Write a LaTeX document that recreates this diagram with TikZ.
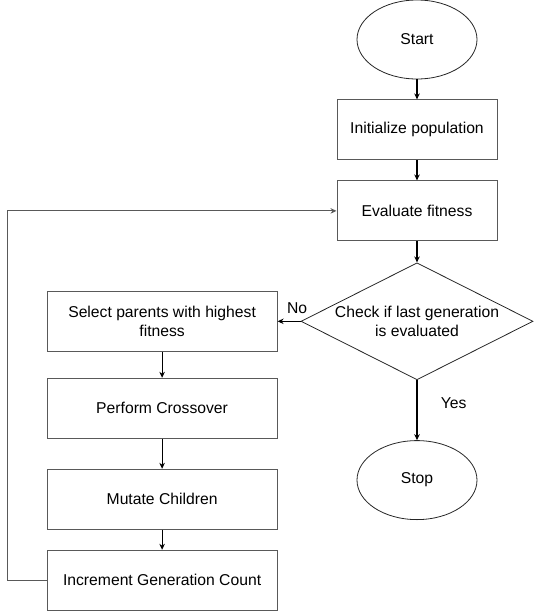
\documentclass[tikz,border=0pt]{standalone}
\usepackage{fontspec}
\setmainfont{Liberation Sans}
\usepackage{tikz}
\usetikzlibrary{shapes,arrows.meta,positioning,calc}
\tikzset{
  cfedge/.style={
    draw=black,
    line width=1.1pt,
    -{Stealth[length=6pt,width=5.5pt]}
  },
  cflabel/.style={
    font=\fontsize{15.7pt}{19pt}\selectfont
  },
  process/.style={
    draw=black!65,
    line width=1pt,
    rectangle,
    minimum height=60pt,
    minimum width=160pt,
    inner sep=0pt,
    align=center,
    font=\fontsize{15.7pt}{19pt}\selectfont,
  },
  terminal/.style={
    draw=black!85,
    line width=0.8pt,
    ellipse,
    minimum height=79pt,
    minimum width=120pt,
    inner sep=0pt,
    font=\fontsize{15.7pt}{19pt}\selectfont,
  },
  decision/.style={
    draw=black!85,
    line width=0.8pt,
    diamond,
    shape aspect=1.9,
    minimum height=117pt,
    minimum width=232pt,
    inner sep=0pt,
    align=center,
    font=\fontsize{15.7pt}{19pt}\selectfont,
  }
}
\begin{document}
\begin{tikzpicture}[auto, node distance=20pt and 23pt]

    \useasboundingbox (0,0) rectangle (535pt,-611pt);

    \node [terminal] (start) at (417pt,-39.5pt) {Start};

    \node [process, below= of start] (init) {Initialize population};

    \node [process, below=20pt of init] (eval) {Evaluate fitness};

    \node [decision, below=21pt of eval] (check) {Check if last generation\\is evaluated};

    \node [terminal, below=60pt of check] (stop) {Stop};


    \node [process, minimum width=230pt, left=23pt of check] (select) {Select parents with highest\\fitness};

    \node [process, minimum width=230pt, below=26pt of select] (cross) {Perform Crossover};

    \node [process, minimum width=230pt, below=30pt of cross] (mutate) {Mutate Children};

    \node [process, minimum width=230pt, below= of mutate] (incr) {Increment Generation Count};

    \draw [cfedge] (start) -- (init);
    \draw [cfedge] (init) -- (eval);
    \draw [cfedge] (eval) -- (check);
    \draw [cfedge] (check.west) -- node [cflabel, pos=0.15, above=4pt] {No} (select);
    \draw [cfedge] (check) -- node [cflabel, pos=0.38, right=20pt] {Yes} (stop);

    \draw [cfedge] (select) -- (cross);
    \draw [cfedge] (cross) -- (mutate);
    \draw [cfedge] (mutate) -- (incr);
    \draw [cfedge, draw=black!65, line width=1pt] (incr.west) -- ($(incr.west)+(-39pt,0)$) |- (eval.west);
  \end{tikzpicture}
\end{document}
